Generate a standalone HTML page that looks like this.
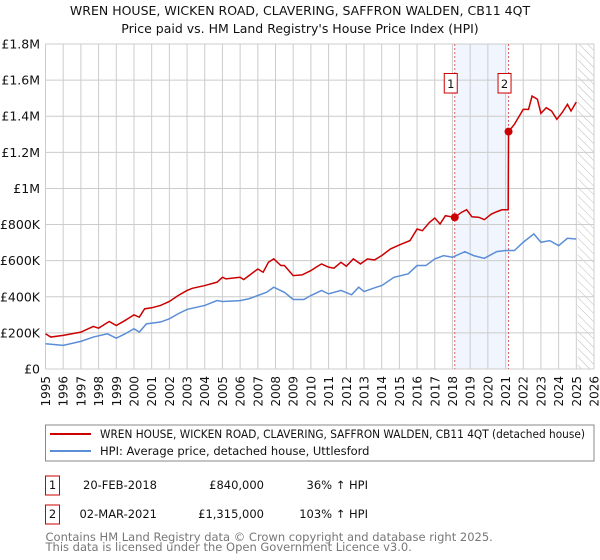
<!DOCTYPE html>
<html><head><meta charset="utf-8"><style>
body{margin:0;background:#fff;}
svg{display:block;font-family:"DejaVu Sans","Liberation Sans",sans-serif;}
</style></head><body>
<svg id="chart" width="600" height="560" viewBox="0 0 600 560">
<text x="300" y="15" text-anchor="middle" font-size="12.5" fill="#111">WREN HOUSE, WICKEN ROAD, CLAVERING, SAFFRON WALDEN, CB11 4QT</text>
<text x="300" y="33" text-anchor="middle" font-size="12.5" fill="#111">Price paid vs. HM Land Registry's House Price Index (HPI)</text>
<defs><pattern id="hatch" width="6" height="6" patternUnits="userSpaceOnUse" patternTransform="rotate(-45)"><line x1="0" y1="0" x2="0" y2="6" stroke="#bbb" stroke-width="1"/></pattern></defs>
<g id="plot"></g>
<rect x="45.5" y="425" width="548.5" height="36" fill="#fff" stroke="#888"/>
<line x1="50" y1="434" x2="91" y2="434" stroke="#cc0000" stroke-width="2"/>
<text x="100" y="438" font-size="11.5" fill="#111" textLength="485" lengthAdjust="spacingAndGlyphs">WREN HOUSE, WICKEN ROAD, CLAVERING, SAFFRON WALDEN, CB11 4QT (detached house)</text>
<line x1="50" y1="451" x2="91" y2="451" stroke="#5b8ed6" stroke-width="2"/>
<text x="100" y="455" font-size="11.5" fill="#111">HPI: Average price, detached house, Uttlesford</text>
<g font-size="11.5" fill="#111">
<rect x="45.5" y="476" width="14" height="19" fill="#fff" stroke="#cc0000"/>
<text x="52.5" y="489" text-anchor="middle">1</text>
<text x="157" y="489" text-anchor="end">20-FEB-2018</text>
<text x="264" y="489" text-anchor="end">£840,000</text>
<text x="368" y="489" text-anchor="end">36% ↑ HPI</text>
<rect x="45.5" y="505" width="14" height="19" fill="#fff" stroke="#cc0000"/>
<text x="52.5" y="518" text-anchor="middle">2</text>
<text x="157" y="518" text-anchor="end">02-MAR-2021</text>
<text x="264" y="518" text-anchor="end">£1,315,000</text>
<text x="368" y="518" text-anchor="end">103% ↑ HPI</text>
</g>
<text x="45.5" y="541" font-size="11.5" fill="#777">Contains HM Land Registry data © Crown copyright and database right 2025.</text>
<text x="45.5" y="551" font-size="11.5" fill="#777">This data is licensed under the Open Government Licence v3.0.</text>
</svg>
<script>
const yTicks=[0,200,400,600,800,1000,1200,1400,1600,1800];
const yTickLabels=["£0","£200K","£400K","£600K","£800K","£1M","£1.2M","£1.4M","£1.6M","£1.8M"];
const years=[1995,1996,1997,1998,1999,2000,2001,2002,2003,2004,2005,2006,2007,2008,2009,2010,2011,2012,2013,2014,2015,2016,2017,2018,2019,2020,2021,2022,2023,2024,2025,2026];
const redT=[1995,1995.3,1996,1997,1997.7,1998,1998.6,1999,1999.5,2000,2000.3,2000.6,2001,2001.5,2002,2002.5,2003,2003.3,2004,2004.7,2005,2005.2,2006,2006.2,2006.5,2007,2007.3,2007.6,2007.9,2008.3,2008.5,2009,2009.5,2010,2010.3,2010.6,2011,2011.3,2011.7,2012,2012.4,2012.8,2013.2,2013.6,2014,2014.5,2015,2015.6,2016,2016.3,2016.7,2017,2017.3,2017.6,2018.13,2018.5,2018.8,2019.1,2019.5,2019.8,2020.2,2020.5,2020.8,2021.15,2021.17,2021.5,2022,2022.3,2022.5,2022.8,2023,2023.3,2023.6,2023.9,2024.2,2024.5,2024.7,2025];
const redV=[195,177,186,204,236,226,263,241,269,300,287,333,339,352,374,407,435,447,462,481,508,499,508,495,517,554,536,591,610,573,573,517,521,545,564,582,564,558,591,569,610,582,610,604,628,665,687,711,775,766,812,836,803,849,840,867,882,843,840,827,858,871,882,882,1315,1355,1438,1438,1512,1494,1416,1447,1429,1383,1420,1466,1429,1479];
const blueT=[1995,1996,1997,1997.7,1998.5,1999,1999.5,2000,2000.3,2000.7,2001.5,2002,2002.5,2003,2004,2004.7,2005,2006,2006.5,2007,2007.5,2007.9,2008.5,2009,2009.6,2010,2010.6,2011,2011.7,2012.3,2012.7,2013,2013.7,2014,2014.7,2015.5,2016,2016.5,2017,2017.5,2018,2018.7,2019.2,2019.8,2020.5,2021,2021.5,2022,2022.6,2023,2023.5,2024,2024.5,2025];
const blueV=[140,131,153,177,195,171,195,223,204,250,260,278,306,330,352,379,374,379,389,407,425,453,425,385,385,407,435,416,435,411,453,429,453,462,508,527,573,573,610,628,619,650,628,613,650,656,656,702,748,702,711,683,724,720];
const saleT=[2018.13,2021.17];
const saleV=[840,1315];
const saleLabels=["1","2"];
const X0=45.5,X1=594,Y0=369,Y1=44;
function xs(t){return X0+(t-1995)/(2026-1995)*(X1-X0);}
function ys(v){return Y0-v/1800*(Y0-Y1);}
const NS="http://www.w3.org/2000/svg";
const g=document.getElementById('plot');
function mk(tag,attrs){const e=document.createElementNS(NS,tag);for(const k in attrs)e.setAttribute(k,attrs[k]);g.appendChild(e);return e;}
let e;
e=mk('rect',{x:xs(saleT[0]),y:Y1,width:xs(saleT[1])-xs(saleT[0]),height:Y0-Y1,fill:'#eef3fc',opacity:0.8});


e=mk('rect',{x:xs(2025.08),y:Y1,width:X1-xs(2025.08),height:Y0-Y1,fill:'url(#hatch)'});


years.forEach(y=>{e=mk('line',{x1:xs(y),y1:Y1,x2:xs(y),y2:Y0,stroke:'#ccc','stroke-width':1});


e=mk('text',{x:0,y:0,transform:`translate(${xs(y)+4.5},376) rotate(-90)`,'text-anchor':'end','font-size':12,fill:'#111'});e.textContent=y;

});
yTicks.forEach((v,i)=>{e=mk('line',{x1:X0,y1:ys(v),x2:X1,y2:ys(v),stroke:'#ccc','stroke-width':1});


e=mk('text',{x:40,y:ys(v)+4.5,'text-anchor':'end','font-size':12.5,fill:'#111'});e.textContent=yTickLabels[i];

});
saleT.forEach((t,i)=>{e=mk('line',{x1:xs(t),y1:Y1,x2:xs(t),y2:Y0,stroke:'#e06060','stroke-width':1,'stroke-dasharray':'2,2'});

});
e=mk('polyline',{points:blueT.map((t,i)=>xs(t)+','+ys(blueV[i])).join(' '),fill:'none',stroke:'#5b8ed6','stroke-width':1.5});


e=mk('polyline',{points:redT.map((t,i)=>xs(t)+','+ys(redV[i])).join(' '),fill:'none',stroke:'#cc0000','stroke-width':1.5});


saleT.forEach((t,i)=>{e=mk('circle',{cx:xs(t),cy:ys(saleV[i]),r:4,fill:'#cc0000'});


e=mk('rect',{x:xs(t)-10.5,y:73.5,width:13,height:19.5,fill:'#fff',stroke:'#cc0000'});


e=mk('text',{x:xs(t)-4,y:88,'text-anchor':'middle','font-size':11.5,fill:'#111'});e.textContent=saleLabels[i];

});
</script>
</body></html>
